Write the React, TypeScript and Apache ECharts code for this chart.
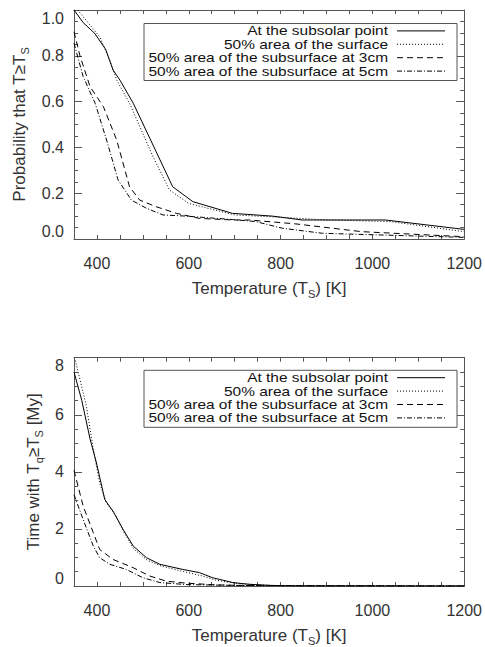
import React, { useEffect, useRef } from "react";
import * as echarts from "echarts";

// ---------- Data ----------
const seriesNames = [
  "At the subsolar point",
  "50% area of the surface",
  "50% area of the subsurface at 3cm",
  "50% area of the subsurface at 5cm",
];

// Top panel: probability that T >= Ts
const probSubsolarT = [350, 370, 395, 419, 435, 450, 479, 529, 565, 609, 695, 782, 847, 1028, 1200];
const probSubsolarP = [1.0, 0.945, 0.898, 0.828, 0.738, 0.694, 0.593, 0.381, 0.228, 0.163, 0.112, 0.1, 0.083, 0.083, 0.042];

const probSurfaceT = [358, 385, 406, 428, 443, 471, 522, 558, 600, 700, 800, 900, 1040, 1200];
const probSurfaceP = [1.0, 0.934, 0.883, 0.78, 0.694, 0.593, 0.36, 0.214, 0.155, 0.105, 0.095, 0.083, 0.076, 0.032];

const prob3cmT = [350, 363, 385, 414, 443, 471, 493, 529, 573, 623, 696, 732, 833, 977, 1200];
const prob3cmP = [0.905, 0.8, 0.665, 0.578, 0.432, 0.228, 0.17, 0.141, 0.112, 0.09, 0.083, 0.083, 0.066, 0.032, 0.01];

const prob5cmT = [350, 370, 396, 421, 446, 475, 508, 544, 594, 695, 746, 804, 891, 1200];
const prob5cmP = [0.855, 0.709, 0.593, 0.432, 0.258, 0.17, 0.134, 0.105, 0.1, 0.085, 0.076, 0.047, 0.025, 0.007];

// Bottom panel: time with Tq >= Ts [My]
const timeSubsolarT = [350, 367, 385, 399, 417, 435, 457, 479, 508, 537, 587, 623, 652, 696, 731, 780, 850, 1200];
const timeSubsolarV = [7.5, 6.5, 5.15, 4.31, 3.03, 2.62, 1.98, 1.4, 0.99, 0.76, 0.58, 0.47, 0.29, 0.12, 0.06, 0.02, 0.0, 0.0];

const timeSurfaceT = [353, 377, 392, 406, 421, 440, 460, 480, 510, 540, 590, 630, 660, 700, 750, 800, 1200];
const timeSurfaceV = [7.9, 6.3, 4.8, 3.6, 2.9, 2.5, 1.85, 1.3, 0.9, 0.7, 0.5, 0.35, 0.2, 0.1, 0.04, 0.01, 0.0];

const time3cmT = [350, 370, 392, 406, 435, 479, 515, 551, 594, 659, 750, 1200];
const time3cmV = [4.05, 2.8, 1.87, 1.28, 0.93, 0.64, 0.35, 0.17, 0.1, 0.04, 0.01, 0.0];

const time5cmT = [350, 370, 392, 406, 428, 464, 500, 537, 594, 700, 1200];
const time5cmV = [3.2, 2.33, 1.4, 0.99, 0.76, 0.58, 0.29, 0.12, 0.05, 0.02, 0.0];

const xTickLabels = [400, 600, 800, 1000, 1200];

// ---------- Styles ----------
const FONT = "Liberation Sans";
const AXIS_COLOR = "#555";
const TEXT_COLOR = "#333";
const lineDashes: (number[] | null)[] = [null, [1, 2], [6, 4], [5, 2, 1, 2]];

const pairs = (xs: number[], ys: number[]) => xs.map((x, i) => [x, ys[i]]);

const grids = [
  { left: 74, top: 10, width: 392, height: 229 },
  { left: 74, top: 357.7, width: 392, height: 229 },
];

function makeXAxes(gridIndex: number) {
  const common = {
    type: "value",
    gridIndex,
    min: 350,
    max: 1200,
    interval: 50,
    splitLine: { show: false },
    axisLine: { show: true, onZero: false, lineStyle: { color: AXIS_COLOR, width: 1 } },
    axisTick: { show: true, inside: true, length: 4, lineStyle: { color: AXIS_COLOR } },
  };
  return [
    {
      ...common,
      position: "bottom",
      name: "Temperature (T{s|S}) [K]",
      nameLocation: "middle",
      nameGap: 38,
      nameTextStyle: {
        fontFamily: FONT,
        fontSize: 17,
        color: TEXT_COLOR,
        lineHeight: 22,
        rich: { s: { fontFamily: FONT, fontSize: 11, color: TEXT_COLOR, lineHeight: 11, verticalAlign: "bottom" } },
      },
      axisLabel: {
        show: true,
        margin: 16,
        fontFamily: FONT,
        fontSize: 16,
        color: TEXT_COLOR,
        formatter: (v: number) => (xTickLabels.indexOf(v) >= 0 ? String(v) : ""),
      },
    },
    {
      ...common,
      position: "top",
      axisLabel: { show: false },
    },
  ];
}

function makeYAxes(gridIndex: number, max: number, interval: number, name: string, nameGap: number, fmt: (v: number) => string) {
  const common = {
    type: "value",
    gridIndex,
    min: 0,
    max,
    interval,
    splitLine: { show: false },
    axisLine: { show: true, onZero: false, lineStyle: { color: AXIS_COLOR, width: 1 } },
    axisTick: { show: true, inside: true, length: 8, lineStyle: { color: AXIS_COLOR } },
    minorTick: { show: true, splitNumber: 4, length: 4, lineStyle: { color: AXIS_COLOR } },
    minorSplitLine: { show: false },
  };
  return [
    {
      ...common,
      position: "left",
      name,
      nameLocation: "middle",
      nameGap,
      nameTextStyle: {
        fontFamily: FONT,
        fontSize: 17,
        color: TEXT_COLOR,
        lineHeight: 22,
        rich: { s: { fontFamily: FONT, fontSize: 11, color: TEXT_COLOR, lineHeight: 11, verticalAlign: "bottom" } },
      },
      axisLabel: {
        show: true,
        margin: 10,
        fontFamily: FONT,
        fontSize: 16,
        color: TEXT_COLOR,
        formatter: fmt,
        verticalAlignMinLabel: "bottom",
        verticalAlignMaxLabel: "top",
      },
    },
    {
      ...common,
      position: "right",
      axisLabel: { show: false },
    },
  ];
}

function legendGraphics(boxTop: number) {
  const els: any[] = [];
  els.push({
    type: "rect",
    z: 100,
    shape: { x: 144, y: boxTop, width: 313, height: 57 },
    style: { fill: "#fff", stroke: AXIS_COLOR, lineWidth: 1 },
  });
  const rowYs = [7.4, 20.8, 34.2, 47.6];
  seriesNames.forEach((nm, i) => {
    const y = boxTop + rowYs[i];
    els.push({
      type: "text",
      z: 101,
      x: 388,
      y,
      scaleX: 1.19,
      scaleY: 1,
      style: {
        text: nm,
        x: 0,
        y: 0,
        align: "right",
        verticalAlign: "middle",
        fontFamily: FONT,
        fontSize: 13,
        lineHeight: 13,
        fill: "#111",
      },
    });
    els.push({
      type: "line",
      z: 101,
      shape: { x1: 397, y1: y, x2: 445, y2: y },
      style: { stroke: "#000", lineWidth: 1, lineDash: lineDashes[i] || undefined },
    });
  });
  return els;
}

function lineSeries(name: string, data: number[][], idx: number, axisBase: number) {
  return {
    type: "line",
    name,
    xAxisIndex: axisBase,
    yAxisIndex: axisBase,
    data,
    showSymbol: false,
    symbol: "none",
    clip: true,
    lineStyle: { color: "#000", width: 1, type: lineDashes[idx] || "solid" },
  };
}

export default function App() {
  const ref = useRef<HTMLDivElement>(null);
  useEffect(() => {
    if (!ref.current) return;
    const chart = echarts.init(ref.current, null, { renderer: "svg" });
    const probFmt = (v: number) => v.toFixed(1);
    const timeFmt = (v: number) => String(Math.round(v));
    const option: any = {
      animation: false,
      backgroundColor: "#fff",
      grid: grids.map((g) => ({ ...g, containLabel: false })),
      xAxis: [...makeXAxes(0), ...makeXAxes(1)],
      yAxis: [
        ...makeYAxes(0, 1, 0.2, "Probability that T≥T{s|S}", 43, probFmt),
        ...makeYAxes(1, 8, 2, "Time with T{s|q}≥T{s|S} [My]", 28, timeFmt),
      ],
      series: [
        lineSeries(seriesNames[0], pairs(probSubsolarT, probSubsolarP), 0, 0),
        lineSeries(seriesNames[1], pairs(probSurfaceT, probSurfaceP), 1, 0),
        lineSeries(seriesNames[2], pairs(prob3cmT, prob3cmP), 2, 0),
        lineSeries(seriesNames[3], pairs(prob5cmT, prob5cmP), 3, 0),
        lineSeries(seriesNames[0], pairs(timeSubsolarT, timeSubsolarV), 0, 2),
        lineSeries(seriesNames[1], pairs(timeSurfaceT, timeSurfaceV), 1, 2),
        lineSeries(seriesNames[2], pairs(time3cmT, time3cmV), 2, 2),
        lineSeries(seriesNames[3], pairs(time5cmT, time5cmV), 3, 2),
      ],
      graphic: [...legendGraphics(23.5), ...legendGraphics(370.3)],
    };
    chart.setOption(option);
    return () => chart.dispose();
  }, []);
  return (
    <div
      ref={ref}
      style={{ position: "fixed", left: 0, top: 0, width: 485, height: 647, background: "#fff" }}
    />
  );
}
